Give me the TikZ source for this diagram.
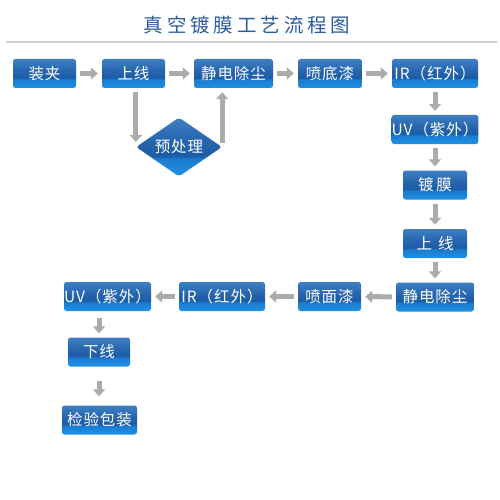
\documentclass[tikz,border=0pt]{standalone}
\usepackage{fontspec}
\setmainfont{Noto Sans CJK SC}
\newfontfamily\titlefont[LetterSpace=20]{Noto Sans CJK SC}
\newfontfamily\boxfont[LetterSpace=6]{Noto Sans CJK SC}
\usetikzlibrary{arrows.meta,shapes.geometric}

\definecolor{titleblue}{HTML}{2A5CA0}
\definecolor{arrowgray}{HTML}{ABABAB}
\definecolor{rulegray}{HTML}{D0D0D0}
\definecolor{btop}{HTML}{3E7EC3}
\definecolor{bmidup}{HTML}{2766AE}
\definecolor{bmid}{HTML}{1C5CA6}
\definecolor{blow}{HTML}{1B7BCF}
\definecolor{bbot}{HTML}{1E92E4}
\pgfdeclareverticalshading{boxshade}{100bp}{color(0bp)=(bbot); color(25bp)=(bbot); color(40bp)=(blow); color(42.5bp)=(bmid); color(55bp)=(bmidup); color(75bp)=(btop); color(100bp)=(btop)}

\begin{document}
\begin{tikzpicture}[
    x=1pt,y=-1pt,
    stepbox/.style={rectangle,rounded corners=2.5pt,shading=boxshade,minimum height=29pt,inner sep=0pt,text=white,font=\boxfont\fontsize{15.5}{18}\selectfont},
    decision/.style={diamond,aspect=1.46,rounded corners=3pt,shading=boxshade,minimum width=86pt,minimum height=59pt,inner sep=0pt,text=white,font=\boxfont\fontsize{15.5}{18}\selectfont},
    arrow/.style={draw=arrowgray,line width=5pt,-{Triangle[length=7pt,width=12pt]},shorten <=4pt,shorten >=4pt}
]
\useasboundingbox (0,0) rectangle (500,500);

\node[font=\titlefont\fontsize{19.5}{22}\selectfont,text=titleblue] (title) at (247,25) {真空镀膜工艺流程图};
\draw[rulegray,line width=2pt] (6,42) -- (497,42);

\node[stepbox,minimum width=63pt] (zhuangjia) at (44.5,73.5) {装夹};
\node[stepbox,minimum width=63pt] (shangxian) at (133.5,73.5) {上线};
\node[stepbox,minimum width=79pt] (jingdian) at (233.5,73.5) {静电除尘};
\node[stepbox,minimum width=64pt] (pendi) at (330,73.5) {喷底漆};
\node[stepbox,minimum width=86pt] (irone) at (435,73.5) {IR（红外）};
\node[stepbox,minimum width=86pt] (uvone) at (435,129.5) {UV（紫外）};
\node[stepbox,minimum width=64pt] (dumo) at (435,185) {镀\hspace{3pt}膜};
\node[stepbox,minimum width=64pt] (shangtwo) at (435,243.5) {上\hspace{6pt}线};
\node[stepbox,minimum width=78pt] (jingtwo) at (435,297) {静电除尘};
\node[stepbox,minimum width=63pt] (penmian) at (329.5,296.5) {喷面漆};
\node[stepbox,minimum width=86pt] (irtwo) at (222,296.5) {IR（红外）};
\node[stepbox,minimum width=87pt] (uvtwo) at (107.5,296.5) {UV（紫外）};
\node[stepbox,minimum width=62pt] (xiaxian) at (99,352) {下线};
\node[stepbox,minimum width=75pt] (jianyan) at (99.5,420) {检验包装};

\node[decision] (yuchuli) at (179,147) {预处理};

\draw[arrow] (zhuangjia) -- (shangxian);
\draw[arrow] (shangxian) -- (jingdian);
\draw[arrow] (jingdian) -- (pendi);
\draw[arrow] (pendi) -- (irone);
\draw[arrow] (irone) -- (uvone);
\draw[arrow] (uvone) -- (dumo);
\draw[arrow] (dumo) -- (shangtwo);
\draw[arrow] (shangtwo) -- (jingtwo);
\draw[arrow] (jingtwo) -- (penmian);
\draw[arrow] (penmian) -- (irtwo);
\draw[arrow] (irtwo) -- (uvtwo);
\draw[arrow,shorten <=7pt] (uvtwo.south -| xiaxian) -- (xiaxian);
\draw[arrow,shorten <=14pt,shorten >=9pt] (xiaxian) -- (xiaxian |- jianyan.north);

\draw[arrow,shorten >=5pt] (shangxian.south -| yuchuli.west) -- (yuchuli.west);
\draw[arrow] (yuchuli.east) -- (yuchuli.east |- jingdian.south);

\end{tikzpicture}
\end{document}
